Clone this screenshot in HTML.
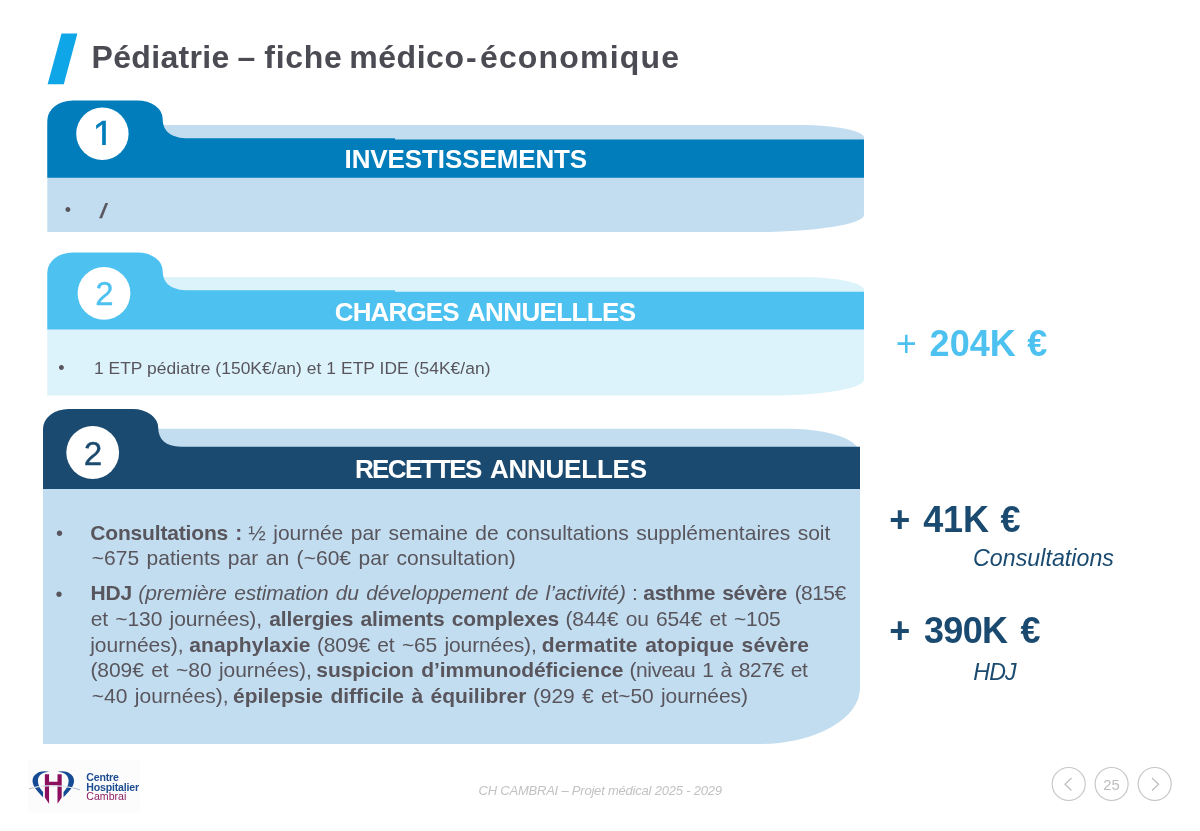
<!DOCTYPE html>
<html lang="fr">
<head>
<meta charset="utf-8">
<title>Pédiatrie – fiche médico-économique</title>
<style>
html,body{margin:0;padding:0;background:#fff;}
body{width:1200px;height:831px;position:relative;overflow:hidden;font-family:"Liberation Sans",sans-serif;color:#58555c;}
#shapes{position:absolute;left:0;top:0;width:1200px;height:831px;}
.t{position:absolute;white-space:nowrap;line-height:1;margin:0;}
.grp{position:absolute;left:0;top:0;margin:0;padding:0;font-size:16px;font-weight:normal;}
.title{font-size:32px;font-weight:bold;color:#4b4b54;}
.hd{color:#fff;font-weight:bold;font-size:26px;}
.num{font-size:32.5px;}
.sg{font-size:21px;line-height:26px;word-spacing:1.6px;}
.big{font-weight:bold;font-size:36px;}
.it{font-style:italic;font-size:23.2px;color:#1a4a6f;}
</style>
</head>
<body>
<svg id="shapes" width="1200" height="831" viewBox="0 0 1200 831">
  <!-- title slash -->
  <polygon points="61.5,33.6 77.4,33.6 63.8,84.3 47.6,84.3" fill="#0fa6e8"/>

  <!-- panel 1 -->
  <path d="M47.3,125 L801,125 A63,12.5 0 0 1 864,137.5 L864,215 A110,17 0 0 1 754,232 L47.3,232 Z" fill="#c3ddf0"/>
  <path d="M47.3,177.8 L47.3,120.4 A25.5,20 0 0 1 72.8,100.4 L137.5,100.4 A25.2,18.5 0 0 1 162.7,118.9 C162.7,131 171,138.3 189,138.3 L395,138.3 L395,139.6 L864,139.6 L864,177.8 Z" fill="#007dba"/>
  <circle cx="102.4" cy="133.7" r="26.2" fill="#fff"/>

  <!-- panel 2 -->
  <path d="M47.3,277 L801,277 A63,13 0 0 1 864,290 L864,379.6 A95,16 0 0 1 769,395.6 L47.3,395.6 Z" fill="#dcf3fb"/>
  <path d="M47.3,329.5 L47.3,272.4 A25.5,20 0 0 1 72.8,252.4 L137.5,252.4 A25.2,18.5 0 0 1 162.7,270.9 C162.7,283 171,290.3 189,290.3 L395,290.3 L395,291.8 L864,291.8 L864,329.5 Z" fill="#4dc1f0"/>
  <circle cx="104" cy="293.3" r="26.4" fill="#fff"/>

  <!-- panel 3 -->
  <path d="M43,428.8 L790,428.8 A70,25 0 0 1 860,453.8 L860,688 A100,56 0 0 1 760,744 L43,744 Z" fill="#c3ddf0"/>
  <path d="M43,489 L43,429 A25.5,20 0 0 1 68.5,409 L133,409 A25.2,18.5 0 0 1 158.2,427.5 C158.2,439 165.5,446.7 181,446.7 L860,446.7 L860,489 Z" fill="#1a4a6f"/>
  <circle cx="92.7" cy="452.5" r="26.4" fill="#fff"/>

  <!-- nav circles -->
  <g fill="none" stroke="#c6c6c6" stroke-width="1.15">
    <circle cx="1068.7" cy="784" r="16.5"/>
    <circle cx="1111.6" cy="784" r="16.5"/>
    <circle cx="1154.7" cy="784" r="16.5"/>
    <polyline points="1071.5,778 1065,784.2 1071.5,790.5" stroke="#bdbdbd" stroke-width="1.2"/>
    <polyline points="1152,778 1158.5,784.2 1152,790.5" stroke="#bdbdbd" stroke-width="1.2"/>
  </g>
</svg>

<h1 class="grp"><span class="t title" id="tt0" style="left:91.5px;top:41.0px;letter-spacing:0.33px;">Pédiatrie</span>
<span class="t title" id="tt1" style="left:237.5px;top:41.0px;">–</span>
<span class="t title" id="tt2" style="left:264.3px;top:41.0px;letter-spacing:0.69px;">fiche</span>
<span class="t title" id="tt3" style="left:349.3px;top:41.0px;letter-spacing:0.52px;">médico</span>
<span class="t title" id="tt4" style="left:465.9px;top:41.0px;">-</span>
<span class="t title" id="tt5" style="left:479.9px;top:41.0px;letter-spacing:1.19px;">économique</span></h1>

<div class="t num" id="n1" style="left:92.4px;top:116.3px;color:#007dba;font-size:38.8px;-webkit-text-stroke:0.4px #007dba;clip-path:inset(0 0 10.2px 0);">1</div>
<h2 class="grp"><span class="t hd" id="h1" style="left:344.6px;top:146.4px;letter-spacing:-0.11px;">INVESTISSEMENTS</span></h2>
<div class="t bl" id="b1" style="left:64.7px;top:200.6px;font-size:18px;">•</div>
<div class="t" id="sl" style="transform:scaleX(1.5);transform-origin:50% 50%;left:100.5px;top:200.8px;font-size:20.1px;-webkit-text-stroke:0.25px #58555c;">/</div>

<div class="t num" id="n2" style="-webkit-text-stroke:0.3px #4dc1f0;left:95.2px;top:277.1px;color:#4dc1f0;font-size:33.0px;">2</div>
<h2 class="grp"><span class="t hd" id="h2a" style="left:334.8px;top:299.1px;letter-spacing:-0.87px;">CHARGES</span>
<span class="t hd" id="h2b" style="left:466.9px;top:299.1px;letter-spacing:-0.61px;">ANNUELLLES</span></h2>
<div class="t bl" id="b2" style="left:58.2px;top:358.9px;font-size:18px;">•</div>
<div class="t" id="p2" style="left:93.9px;top:359.8px;font-size:17.4px;letter-spacing:0.06px;">1 ETP pédiatre (150K€/an) et 1 ETP IDE (54K€/an)</div>

<div class="t num" id="n3" style="-webkit-text-stroke:0.3px #1a4a6f;left:83.7px;top:437.1px;color:#1a4a6f;font-size:33.3px;">2</div>
<h2 class="grp"><span class="t hd" id="h3a" style="left:354.9px;top:455.7px;letter-spacing:-1.60px;">RECETTES</span>
<span class="t hd" id="h3b" style="left:489.9px;top:455.7px;letter-spacing:-0.22px;">ANNUELLES</span></h2>

<p class="grp">
<span class="t bl" id="b3" style="left:55.9px;top:523.4px;font-size:20px;">•</span>
<b class="t sg" id="s1a" style="left:90.3px;top:519.5px;letter-spacing:-0.17px;">Consultations :</b>
<span class="t sg" id="s1b" style="left:248.3px;top:519.5px;">½ journée par semaine de consultations supplémentaires soit</span>
<span class="t sg" id="s2a" style="left:91.7px;top:545.3px;letter-spacing:0.03px;">~675 patients par an (~60€ par consultation)</span>
</p>
<p class="grp">
<span class="t bl" id="b4" style="left:55.6px;top:583.6px;font-size:20px;">•</span>
<b class="t sg" id="s3a" style="left:90.4px;top:579.9px;letter-spacing:-0.17px;">HDJ</b>
<i class="t sg" id="s3b" style="left:138.3px;top:579.9px;letter-spacing:-0.14px;">(première estimation du développement de l’activité)</i>
<span class="t sg" id="s3c" style="left:632.0px;top:579.9px;">:</span>
<b class="t sg" id="s3d" style="left:643.3px;top:579.9px;letter-spacing:-0.30px;">asthme sévère</b>
<span class="t sg" id="s3e" style="left:794.7px;top:579.9px;letter-spacing:-0.56px;">(815€</span>
<span class="t sg" id="s4a" style="left:90.7px;top:605.7px;letter-spacing:-0.10px;">et ~130 journées),</span>
<b class="t sg" id="s4b" style="left:269.3px;top:605.7px;letter-spacing:-0.15px;">allergies aliments complexes</b>
<span class="t sg" id="s4c" style="left:565.4px;top:605.7px;letter-spacing:-0.15px;">(844€ ou 654€ et ~105</span>
<span class="t sg" id="s5a" style="left:90.2px;top:631.5px;">journées),</span>
<b class="t sg" id="s5b" style="left:189.3px;top:631.5px;letter-spacing:0.10px;">anaphylaxie</b>
<span class="t sg" id="s5c" style="left:316.9px;top:631.5px;letter-spacing:-0.12px;">(809€ et ~65 journées),</span>
<b class="t sg" id="s5d" style="left:541.7px;top:631.5px;letter-spacing:0.16px;">dermatite atopique sévère</b>
<span class="t sg" id="s6a" style="left:90.4px;top:657.3px;letter-spacing:-0.05px;">(809€ et ~80 journées),</span>
<b class="t sg" id="s6b" style="left:316.3px;top:657.3px;letter-spacing:-0.05px;">suspicion d’immunodéficience</b>
<span class="t sg" id="s6c" style="left:629.4px;top:657.3px;letter-spacing:-0.43px;">(niveau 1 à 827€ et</span>
<span class="t sg" id="s7a" style="left:91.7px;top:683.1px;letter-spacing:0.03px;">~40 journées),</span>
<b class="t sg" id="s7b" style="left:233.0px;top:683.1px;letter-spacing:0.01px;">épilepsie difficile à équilibrer</b>
<span class="t sg" id="s7c" style="left:532.9px;top:683.1px;letter-spacing:-0.08px;">(929 € et~50 journées)</span>
</p>

<div class="grp"><span class="t big" id="g1a" style="left:895.7px;top:326.2px;color:#4dc1f0;font-weight:normal;">+</span>
<span class="t big" id="g1b" style="left:929.6px;top:326.2px;color:#4dc1f0;letter-spacing:0.06px;">204K</span>
<span class="t big" id="g1c" style="left:1027.3px;top:326.2px;color:#4dc1f0;">€</span></div>
<div class="grp"><span class="t big" id="g2a" style="left:889.3px;top:501.6px;color:#1a4a6f;">+</span>
<span class="t big" id="g2b" style="left:923.2px;top:501.6px;color:#1a4a6f;letter-spacing:-0.17px;">41K</span>
<span class="t big" id="g2c" style="left:1000.6px;top:501.6px;color:#1a4a6f;">€</span></div>
<div class="t it" id="i1" style="left:973.1px;top:546.6px;letter-spacing:0.03px;">Consultations</div>
<div class="grp"><span class="t big" id="g3a" style="left:889.3px;top:612.6px;color:#1a4a6f;">+</span>
<span class="t big" id="g3b" style="left:923.9px;top:612.6px;color:#1a4a6f;letter-spacing:-0.63px;">390K</span>
<span class="t big" id="g3c" style="left:1020.5px;top:612.6px;color:#1a4a6f;">€</span></div>
<div class="t it" id="i2" style="left:973.2px;top:660.8px;letter-spacing:-0.80px;">HDJ</div>

<div class="t" id="ft" style="left:478.5px;top:783.9px;font-size:13px;font-style:italic;color:#c2c2c2;letter-spacing:-0.21px;">CH CAMBRAI – Projet médical 2025 - 2029</div>
<div class="t" id="pg" style="left:1095.1px;top:778.0px;width:33px;text-align:center;font-size:14.8px;color:#bdbdbd;">25</div>

<!-- logo -->
<div style="position:absolute;left:28px;top:760px;width:112px;height:53px;background:#fcfcfc;"></div>
<svg style="position:absolute;left:0;top:755px;" width="160" height="70" viewBox="0 755 160 70">
  <path d="M49.38,772.11 C43.06,769.52 32.82,772.53 32.52,780.66 C32.52,786.07 37.04,790.89 43.06,797.21 L43.06,792.09 C40.05,788.48 37.94,785.47 37.94,780.66 C37.94,775.54 43.06,771.33 49.38,772.11 Z" fill="#154a94"/>
  <path d="M57.20,772.11 C63.52,769.52 73.75,772.53 74.05,780.66 C74.05,786.07 69.54,790.89 63.52,797.21 L63.52,792.09 C66.53,788.48 68.64,785.47 68.64,780.66 C68.64,775.54 63.52,771.33 57.20,772.11 Z" fill="#154a94"/>
  <path d="M44.86,774.34 L49.07,774.34 L49.07,781.86 L57.50,781.86 L57.50,774.34 L61.71,774.34 L61.71,797.51 L57.50,803.83 L57.50,785.47 L49.07,785.47 L49.07,803.83 L44.86,797.51 Z" fill="#8c0f5f"/>
  <path d="M28.91,788.90 C37.04,786.38 46.07,785.59 53.29,785.77 C61.11,785.95 71.95,786.98 80.07,789.81" fill="none" stroke="#9aa7b8" stroke-width="0.8"/>
  <path d="M33.5,787.6 C40,786.2 47,785.6 53.29,785.77 C59.5,785.9 67,786.5 73.5,788.1" fill="none" stroke="#f4f6fa" stroke-width="0.9"/>
</svg>
<div class="t" id="lg1" style="left:86.3px;top:771.6px;font-size:10.6px;font-weight:bold;color:#1d4c90;letter-spacing:-0.2px;">Centre</div>
<div class="t" id="lg2" style="left:86.3px;top:781.5px;font-size:10.6px;font-weight:bold;color:#1d4c90;letter-spacing:-0.2px;">Hospitalier</div>
<div class="t" id="lg3" style="left:86.3px;top:790.5px;font-size:10.6px;color:#8c1f62;letter-spacing:0px;">Cambrai</div>
</body>
</html>
